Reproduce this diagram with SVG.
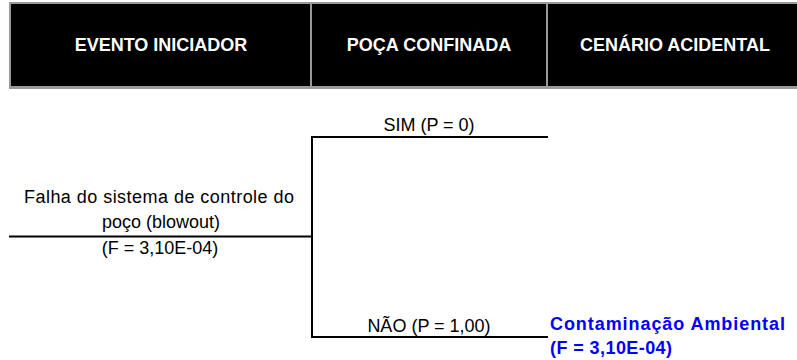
<svg xmlns="http://www.w3.org/2000/svg" width="797" height="360" viewBox="0 0 797 360">
<style>
.hdr{font-family:"Liberation Sans",Arial,sans-serif;font-weight:bold;font-size:18px;fill:#ffffff;text-anchor:middle}
.lbl{font-family:"Liberation Sans",Arial,sans-serif;font-size:18px;fill:#000000;text-anchor:middle}
.res{font-family:"Liberation Sans",Arial,sans-serif;font-weight:bold;font-size:18px;fill:#0000ff}
.ln{stroke:#000000;stroke-width:2;fill:none}
.cell{fill:#000000}
</style>
<rect width="797" height="360" fill="#ffffff"/>
<g id="header">
<rect x="9" y="2" width="788" height="87" fill="#9a9a9a"/>
<rect class="cell" x="11" y="4" width="299" height="82"/>
<rect class="cell" x="312" y="4" width="234" height="82"/>
<rect class="cell" x="548" y="4" width="249" height="82"/>
<text class="hdr" x="161" y="51">EVENTO INICIADOR</text>
<text class="hdr" x="429" y="51">POÇA CONFINADA</text>
<text class="hdr" x="675" y="51">CENÁRIO ACIDENTAL</text>
</g>
<g id="connectors">
<line class="ln" x1="9" y1="236.5" x2="312" y2="236.5"/>
<line class="ln" x1="312" y1="136" x2="312" y2="338"/>
<line class="ln" x1="311" y1="137" x2="548" y2="137"/>
<line class="ln" x1="311" y1="337" x2="548" y2="337"/>
</g>
<g id="initiator">
<text class="lbl" x="159" y="203" textLength="270" lengthAdjust="spacing">Falha do sistema de controle do</text>
<text class="lbl" x="161" y="228">poço (blowout)</text>
<text class="lbl" x="160" y="254">(F = 3,10E-04)</text>
</g>
<g id="branch-sim">
<text class="lbl" x="429" y="131">SIM (P = 0)</text>
</g>
<g id="branch-nao">
<text class="lbl" x="429" y="332">NÃO (P = 1,00)</text>
</g>
<g id="scenario">
<text class="res" x="550" y="330" textLength="235" lengthAdjust="spacing">Contaminação Ambiental</text>
<text class="res" x="550" y="354" textLength="122" lengthAdjust="spacing">(F = 3,10E-04)</text>
</g>
</svg>
